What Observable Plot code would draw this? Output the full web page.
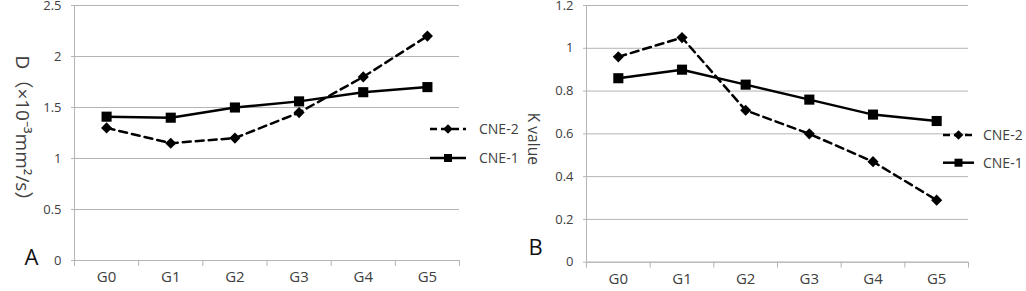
<!DOCTYPE html>
<html><head><meta charset="utf-8">
<script src="https://cdn.jsdelivr.net/npm/d3@7"></script>
<script src="https://cdn.jsdelivr.net/npm/@observablehq/plot@0.6"></script>
<style>
body{margin:0;background:#fff}
#wrap{position:relative;width:1026px;height:291px;overflow:hidden}
#wrap svg{position:absolute;top:0;overflow:visible}
</style></head><body><div id="wrap"></div>
<script>
const categories = ["G0", "G1", "G2", "G3", "G4", "G5"];
const seriesNames = ["CNE-2", "CNE-1"];
// Panel A: D (×10^-3 mm²/s)
const dCNE2 = [1.30, 1.15, 1.20, 1.45, 1.80, 2.20];
const dCNE1 = [1.41, 1.40, 1.50, 1.56, 1.65, 1.70];
const dTicks = [0, 0.5, 1, 1.5, 2, 2.5];
// Panel B: K value
const kCNE2 = [0.96, 1.05, 0.71, 0.60, 0.47, 0.29];
const kCNE1 = [0.86, 0.90, 0.83, 0.76, 0.69, 0.66];
const kTicks = [0, 0.2, 0.4, 0.6, 0.8, 1, 1.2];

const F = "'Open Sans', 'Noto Sans CJK SC', sans-serif";
const grid = "#b4b4b4", ink = "#404040";

function panel(o) {
  const rows2 = categories.map((c, i) => ({i, v: o.s2[i]}));
  const rows1 = categories.map((c, i) => ({i, v: o.s1[i]}));
  const svg = Plot.plot({
    width: o.width, height: 291,
    marginLeft: o.ml, marginRight: o.mr, marginTop: 5, marginBottom: o.mb,
    style: {fontFamily: F, fontSize: "13px", color: ink, overflow: "visible", background: "transparent"},
    x: {type: "linear", domain: [-0.5, categories.length - 0.5], axis: null},
    y: {domain: [0, o.yMax], axis: null},
    marks: [
      Plot.gridY(o.ticks, {stroke: grid, strokeOpacity: 1}),
      Plot.axisY(o.ticks, {tickSize: 3, tickPadding: 10, stroke: grid, tickFormat: d => String(d), label: null, fill: ink, fontSize: 13}),
      Plot.ruleX([-0.5], {stroke: grid}),
      Plot.axisX(d3.range(categories.length + 1).map(i => i - 0.5), {tickSize: 6, stroke: grid, tickFormat: () => "", label: null}),
      Plot.axisX(d3.range(categories.length), {tickSize: 0, tickPadding: 11, tickFormat: i => categories[i], fontSize: 15, label: null, fill: ink}),
      Plot.ruleY([0], {stroke: grid}),
      Plot.text([o.yLabel], {text: d => d, frameAnchor: "left", textAnchor: "middle", lineAnchor: "middle", rotate: 90, dx: o.ldx, dy: o.ldy, fontSize: o.lfs, fill: ink}),
      Plot.text([o.letter], {text: d => d, frameAnchor: "bottom-left", textAnchor: "start", lineAnchor: "bottom", dx: o.adx, dy: o.ady, fontSize: 22, fill: "#111"}),
      Plot.line(rows2, {x: "i", y: "v", stroke: "#000", strokeWidth: 2.5, strokeDasharray: "8,5"}),
      Plot.line(rows1, {x: "i", y: "v", stroke: "#000", strokeWidth: 2.5}),
      Plot.dot(rows2, {x: "i", y: "v", symbol: "diamond2", r: 5, fill: "#000", stroke: "none"}),
      Plot.dot(rows1, {x: "i", y: "v", symbol: "square", r: 5.7, fill: "#000", stroke: "none"})
    ]
  });
  svg.style.left = o.left + "px";
  // legend
  const g = d3.select(svg).append("g").attr("font-family", F).attr("font-size", 14).attr("text-anchor", "start");
  seriesNames.forEach((name, k) => {
    const y = o.legY[k], xm = (o.legX1 + o.legX2) / 2;
    g.append("line").attr("x1", o.legX1).attr("x2", o.legX2).attr("y1", y).attr("y2", y)
      .attr("stroke", "#000").attr("stroke-width", 2.5)
      .attr("stroke-dasharray", k === 0 ? "7,4" : null);
    g.append("path").attr("transform", `translate(${xm},${y})`)
      .attr("d", d3.symbol(k === 0 ? d3.symbolDiamond2 : d3.symbolSquare, k === 0 ? 60 : 64)())
      .attr("fill", "#000");
    g.append("text").attr("x", o.legTx).attr("y", y).attr("dy", "0.35em").attr("fill", ink).text(name);
  });
  document.getElementById("wrap").appendChild(svg);
}

panel({
  s1: dCNE1, s2: dCNE2, ticks: dTicks, yMax: 2.5,
  yLabel: "D（×10⁻³mm²/s）", letter: "A", lfs: 19,
  width: 500, left: 0, ml: 74, mr: 41, mb: 31,
  ldx: -52, ldy: 0, adx: -50, ady: 4,
  legX1: 430, legX2: 466, legTx: 479, legY: [129, 158]
});
panel({
  s1: kCNE1, s2: kCNE2, ticks: kTicks, yMax: 1.2,
  yLabel: "K value", letter: "B", lfs: 15.5,
  width: 526, left: 500, ml: 86, mr: 58, mb: 29.3,
  ldx: -54, ldy: 5, adx: -58, ady: -7,
  legX1: 443, legX2: 474, legTx: 483, legY: [135, 162.7]
});
</script></body></html>
